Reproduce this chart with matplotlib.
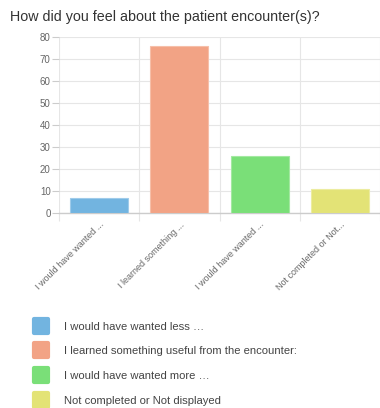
import numpy as np
import matplotlib.pyplot as plt
from matplotlib.lines import Line2D
from matplotlib.markers import MarkerStyle

plt.rcParams['font.family'] = ['Liberation Sans', 'DejaVu Sans']

short_labels = ['I would have wanted ...', 'I learned something ...',
                'I would have wanted ...', 'Not completed or Not...']
long_labels = ['I would have wanted less \u2026',
               'I learned something useful from the encounter:',
               'I would have wanted more \u2026',
               'Not completed or Not displayed']
values = [7, 76, 26, 11]
colors = ['#72b4e0', '#f2a385', '#7adf78', '#e3e376']
edges = ['#9fcbea', '#f6bfa9', '#a3e9a1', '#ececa0']

fig = plt.figure(figsize=(3.8, 4.08), dpi=100)
ax = fig.add_axes([59/380, 1 - 213/408, 1 - 59/380, 176/408])

x = np.arange(len(values))
ax.bar(x, values, width=0.72, color=colors, edgecolor=edges, linewidth=0.8, zorder=3)

ax.set_xlim(-0.5, 3.46)
ax.set_ylim(0, 80)
ax.set_yticks(range(0, 81, 10))
ax.tick_params(axis='y', labelsize=7, colors='#666666', length=5, width=0.8, pad=1)
ax.tick_params(axis='y', color='#cccccc')
ax.set_xticks(x)
ax.set_xticklabels(short_labels, rotation=45, ha='right', rotation_mode='anchor',
                   fontsize=6.5, color='#666666')
ax.tick_params(axis='x', length=0, pad=5)
ax.set_xticks(np.arange(-0.5, 4, 1), minor=True)
ax.tick_params(axis='x', which='minor', length=6, color='#e6e6e6', width=0.8)
ax.grid(axis='y', color='#e6e6e6', linewidth=0.8, zorder=0)
ax.grid(axis='x', which='minor', color='#e6e6e6', linewidth=0.8, zorder=0)
for s in ['top', 'right', 'left']:
    ax.spines[s].set_visible(False)
ax.spines['bottom'].set_color('#cccccc')
ax.spines['bottom'].set_linewidth(1)

fig.text(10/380, 1 - 17/408, 'How did you feel about the patient encounter(s)?',
         fontsize=10.3, color='#333333', va='center')

square = MarkerStyle('s', joinstyle='round')
handles = [Line2D([], [], marker=square, linestyle='none', markersize=10,
                  markerfacecolor=c, markeredgecolor=c, markeredgewidth=3)
           for c in colors]
fig.legend(handles, long_labels, loc='upper left', bbox_to_anchor=(30/380, 1 - 317/408),
           frameon=False, fontsize=8.1, labelcolor='#444444', handlelength=1.1,
           handletextpad=1.5, labelspacing=1.32, borderaxespad=0)

fig.savefig('out.png', dpi=100)
